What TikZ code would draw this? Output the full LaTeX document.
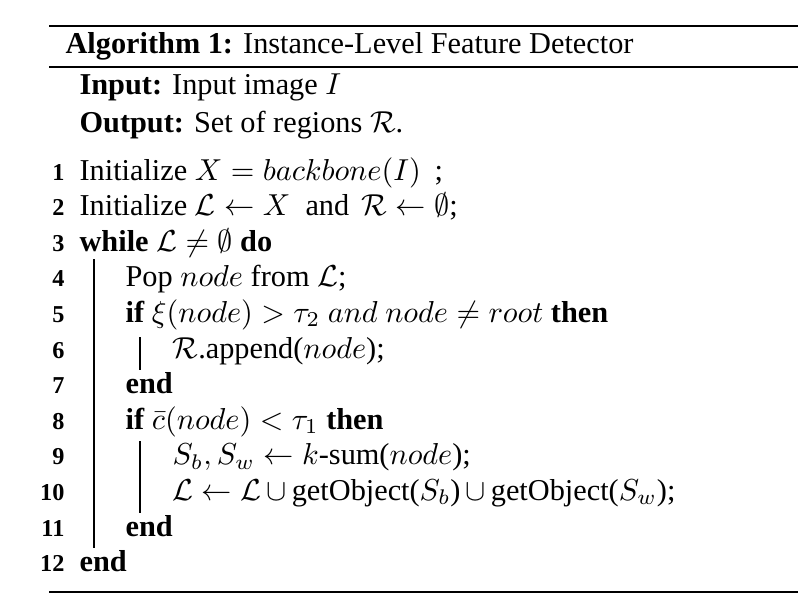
\documentclass[tikz,border=0pt]{standalone}
\usepackage{amssymb}
\usepackage{amsmath}
\usepackage{fontspec}
\setmainfont{Liberation Serif}
\usepackage{xcolor}
\usepackage{tikz}
\usetikzlibrary{positioning}

\tikzset{
	lnum/.style={anchor=base east, inner sep=0pt, font=\footnotesize\bfseries},
	codeline/.style={anchor=base west, inner sep=0pt, font=\normalsize},
	blockbar/.style={line width=0.45pt},
}

\begin{document}
\begin{tikzpicture}[x=0.330pt, y=-0.330pt]
					\useasboundingbox (0,0) rectangle (798,605);
					% rules
					\draw[line width=0.8pt] (49,26) -- (798,26);
					\draw[line width=0.6pt] (49,67) -- (798,67);
					\draw[line width=0.8pt] (49,592) -- (798,592);
					% caption and in/out
					\node[codeline] (cap) at (65,53) {\textbf{Algorithm 1:} Instance-Level Feature Detector};
					\node[codeline] (inp) at (79,94) {\textbf{Input:} Input image $I$};
					\node[codeline] (outp) at (79,132) {\textbf{Output:} Set of regions $\mathcal{R}$.};
					% line numbers
					\foreach \i in {1,...,12}
						\node[lnum] (n\i) at (65,{180+(\i-1)*35.6}) {\i};
					% code
					\node[codeline] (l1) at (79,180) {Initialize $X = backbone(I)$\hspace{4.5pt};};
					\node[codeline] (l2) at (79,215.6) {Initialize $\mathcal{L} \leftarrow X$\hspace{5pt}and\hspace{4pt}$\mathcal{R} \leftarrow \emptyset$;};
					\node[codeline] (l3) at (79,251.2) {\textbf{while} $\mathcal{L} \neq \emptyset$ \textbf{do}};
					\node[codeline] (l4) at (125,286.8) {Pop $node$ from $\mathcal{L}$;};
					\node[codeline] (l5) at (125,322.4) {\textbf{if} $\xi(node) > \tau_2$ $and$ $node \neq root$ \textbf{then}};
					\node[codeline] (l6) at (172,358) {$\mathcal{R}$.append($node$);};
					\node[codeline] (l7) at (125,393.6) {\textbf{end}};
					\node[codeline] (l8) at (125,429.2) {\textbf{if} $\bar{c}(node) < \tau_1$ \textbf{then}};
					\node[codeline] (l9) at (172,464.8) {$S_b, S_w \leftarrow k$-sum($node$);};
					\node[codeline] (l10) at (172,500.4) {$\mathcal{L} \leftarrow \mathcal{L}\,\cup\,$getObject($S_b$)$\,\cup\,$getObject($S_w$);};
					\node[codeline] (l11) at (125,536) {\textbf{end}};
					\node[codeline] (l12) at (79,571.6) {\textbf{end}};
					% block bars
					\coordinate (w1a) at (94,259);
					\coordinate (w1b) at (94,548);
					\coordinate (i1a) at (140,337);
					\coordinate (i1b) at (140,370);
					\coordinate (i2a) at (140,441);
					\coordinate (i2b) at (140,513);
					\draw[blockbar] (w1a) -- (w1b);
					\draw[blockbar] (i1a) -- (i1b);
					\draw[blockbar] (i2a) -- (i2b);
\end{tikzpicture}
\end{document}
